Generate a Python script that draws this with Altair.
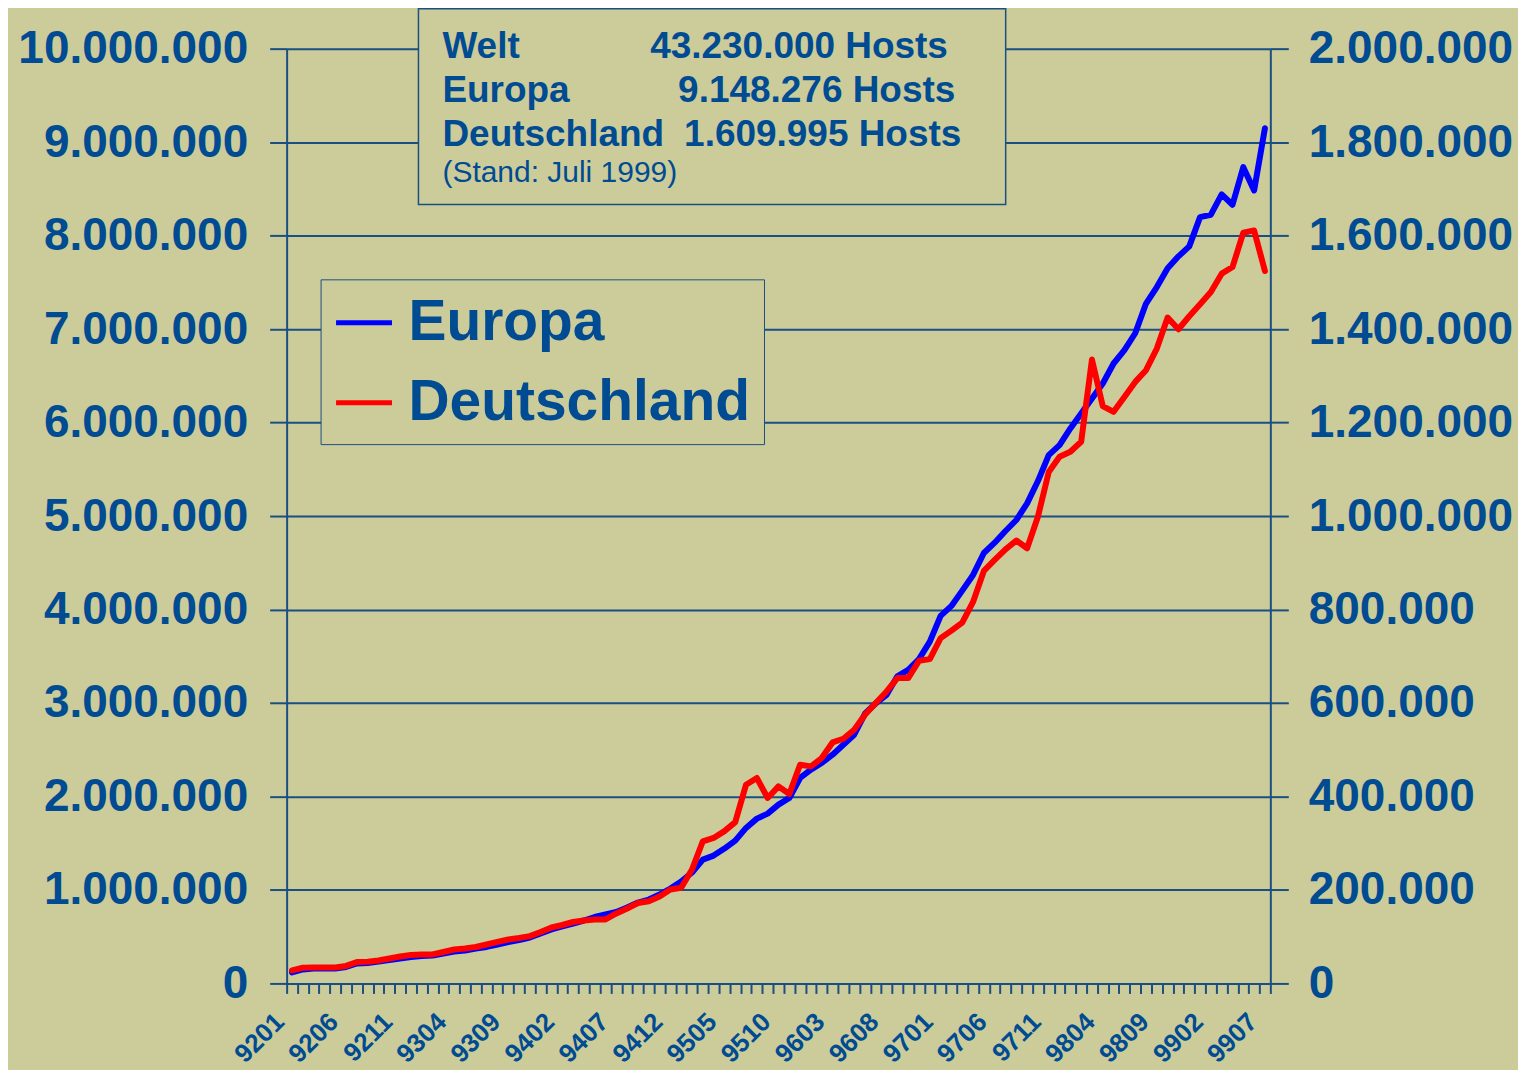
import altair as alt
import pandas as pd

# ---------------- data ----------------
months = [f"{y % 100:02d}{m:02d}" for y in range(1992, 2000) for m in range(1, 13)][:91]
tick_labels = ["9201", "9206", "9211", "9304", "9309", "9402", "9407", "9412", "9505",
               "9510", "9603", "9608", "9701", "9706", "9711", "9804", "9809", "9902", "9907"]

europa = [117500, 149600, 160300, 160300, 160300, 176300, 213700, 219000, 235000, 251100,
          267100, 283100, 293800, 299200, 320500, 341900, 352600, 373900, 390000, 416700,
          443400, 464800, 491500, 534200, 576900, 609000, 641000, 673100, 710500, 737200,
          763900, 812000, 865400, 897500, 950900, 1015000, 1089800, 1185900, 1324800, 1367600,
          1442300, 1527800, 1663500, 1762900, 1816300, 1912400, 1984000, 2197700, 2286400, 2358000,
          2446600, 2553500, 2660300, 2884700, 2996900, 3087700, 3285300, 3354800, 3469100, 3657100,
          3931700, 4038600, 4202100, 4369800, 4604800, 4714900, 4839900, 4957400, 5135800, 5374100,
          5651800, 5758700, 5937100, 6097400, 6257600, 6417900, 6631600, 6773700, 6955300, 7272600,
          7450000, 7649700, 7778000, 7884800, 8197800, 8223500, 8440400, 8330300, 8732000, 8483100,
          9148276]

deutschland = [27800, 33500, 34200, 34200, 34200, 37400, 45900, 46400, 49100, 53400,
               57700, 60900, 62000, 62000, 67300, 72600, 74800, 78000, 83300, 88700,
               94000, 97200, 101100, 110000, 119700, 125000, 131400, 134600, 136800, 136800,
               149600, 160300, 172000, 175900, 185900, 200900, 204500, 243600, 304100, 311300,
               325900, 345100, 425200, 439500, 396800, 421600, 405300, 467900, 464300, 482300,
               515600, 523500, 542700, 574800, 599800, 624600, 653200, 653200, 690200, 693800,
               738700, 754900, 772000, 816200, 882500, 906000, 928800, 947700, 931000, 998500,
               1094000, 1126700, 1137400, 1158800, 1334800, 1235000, 1222900, 1254900, 1287000, 1312000,
               1358300, 1424600, 1399600, 1427400, 1453000, 1479300, 1518600, 1532700, 1606200, 1611100,
               1524200]

series_names = ["Europa", "Deutschland"]
series_colors = ["#0000FF", "#FF0000"]

info_names = ["Welt", "Europa", "Deutschland"]
info_values = ["43.230.000 Hosts", "9.148.276 Hosts", "1.609.995 Hosts"]
info_note = "(Stand: Juli 1999)"

# ---------------- styles ----------------
BG = "#CCCC9A"
TXT = "#004B91"
LINE = "#1B4F82"
FONT = "Liberation Sans"

n = len(months)
df = pd.DataFrame({
    "idx": list(range(n)) * 2,
    "month": months * 2,
    "series": [series_names[0]] * n + [series_names[1]] * n,
    "hosts": europa + deutschland,
})

label_expr_x = ("(datum.value + 0.5) % 5 === 0 ? "
                + "[" + ",".join(f"'{t}'" for t in tick_labels) + "]"
                + "[(datum.value + 0.5) / 5] : ''")
dot_fmt = "replace(format(datum.value, ',d'), /,/g, '.')"

x_enc = alt.X(
    "idx:Q",
    scale=alt.Scale(domain=[-0.5, n - 0.5], nice=False, zero=False),
    axis=alt.Axis(
        values=[k - 0.5 for k in range(n + 1)],
        labelExpr=label_expr_x,
        labelAngle=-45, labelAlign="right", labelBaseline="middle",
        labelFont=FONT, labelFontWeight="bold", labelFontSize=26, labelColor=TXT,
        labelPadding=24, labelOffset=-7, labelOverlap=False, labelFlush=False,
        labelLimit=0,
        tickSize=10, tickWidth=2, tickColor=LINE,
        domainColor=LINE, domainWidth=2, grid=False, title=None,
    ),
)

color_enc = alt.Color(
    "series:N",
    scale=alt.Scale(domain=series_names, range=series_colors),
    sort=series_names,
    legend=alt.Legend(
        title=None, orient="none", legendX=34, legendY=231,
        fillColor=BG, strokeColor=LINE, padding=13,
        symbolType="stroke", symbolSize=3136, symbolStrokeWidth=5,
        labelFont=FONT, labelFontWeight="bold", labelFontSize=57, labelColor=TXT,
        labelOffset=14, labelLimit=0, rowPadding=21,
    ),
)

base = alt.Chart(df)

y_common = dict(labelExpr=dot_fmt, labelFont=FONT, labelFontWeight="bold",
                labelFontSize=46, labelColor=TXT, labelLimit=0,
                tickWidth=2, tickColor=LINE, domainColor=LINE, domainWidth=2, title=None)

europa_line = base.transform_filter(alt.datum.series == series_names[0]).mark_line(
    strokeWidth=6, strokeJoin="round", strokeCap="round"
).encode(
    x=x_enc,
    y=alt.Y("hosts:Q", scale=alt.Scale(domain=[0, 10_000_000], nice=False),
            axis=alt.Axis(orient="left", values=list(range(0, 10_000_001, 1_000_000)),
                          labelPadding=22, tickSize=17,
                          grid=True, gridColor=LINE, gridWidth=2, **y_common)),
    color=color_enc,
)

de_line = base.transform_filter(alt.datum.series == series_names[1]).mark_line(
    strokeWidth=6, strokeJoin="round", strokeCap="round"
).encode(
    x=x_enc,
    y=alt.Y("hosts:Q", scale=alt.Scale(domain=[0, 2_000_000], nice=False),
            axis=alt.Axis(orient="right", values=list(range(0, 2_000_001, 200_000)),
                          labelPadding=20, tickSize=18, grid=False, **y_common)),
    color=color_enc,
)

lines = alt.layer(europa_line, de_line).resolve_scale(y="independent")

one = pd.DataFrame({"a": [0]})
box = alt.Chart(one).mark_rect(fill=BG, stroke=LINE, strokeWidth=1.5).encode(
    x=alt.value(132), x2=alt.value(720), y=alt.value(-40), y2=alt.value(156)
)


def txt(s, x, y, size, weight):
    return alt.Chart(pd.DataFrame({"t": [s]})).mark_text(
        align="left", baseline="alphabetic", font=FONT, fontSize=size,
        fontWeight=weight, color=TXT
    ).encode(x=alt.value(x), y=alt.value(y), text="t:N")


name_x = 156
value_x = [364, 392, 398]
rows_y = [9, 53, 97]
texts = []
for i in range(3):
    texts.append(txt(info_names[i], name_x, rows_y[i], 37, "bold"))
    texts.append(txt(info_values[i], value_x[i], rows_y[i], 37, "bold"))
texts.append(txt(info_note, name_x, 134, 30, "normal"))

chart = alt.layer(lines, box, *texts).properties(
    width=985, height=936,
    autosize=alt.AutoSizeParams(type="none"),
    padding={"left": 279, "top": 40, "right": 248, "bottom": 86},
).configure(background=BG).configure_view(strokeWidth=0)

chart.save("out.html", embed_options={"renderer": "svg", "actions": False})
